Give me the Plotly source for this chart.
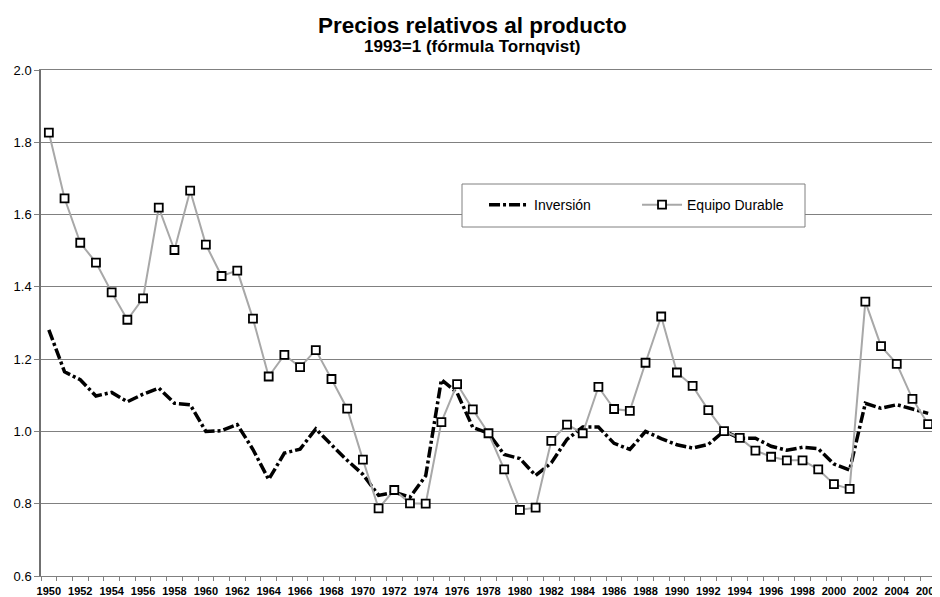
import plotly.graph_objects as go

# Datos (1993=1)
years = list(range(1950, 2007))

inversion = [
    1.281, 1.165, 1.143, 1.098, 1.108, 1.082, 1.103, 1.120, 1.078, 1.074,
    1.000, 1.002, 1.019, 0.950, 0.867, 0.940, 0.951, 1.007, 0.963, 0.920,
    0.881, 0.823, 0.832, 0.818, 0.877, 1.143, 1.107, 1.011, 0.995, 0.936,
    0.925, 0.878, 0.913, 0.978, 1.012, 1.012, 0.967, 0.950, 1.000, 0.980,
    0.963, 0.954, 0.964, 1.001, 0.981, 0.981, 0.959, 0.948, 0.956, 0.952,
    0.910, 0.893, 1.078, 1.064, 1.074, 1.061, 1.050,
]

equipo_durable = [
    1.827, 1.645, 1.522, 1.467, 1.385, 1.309, 1.368, 1.619, 1.502, 1.666,
    1.517, 1.430, 1.445, 1.312, 1.152, 1.212, 1.178, 1.225, 1.145, 1.063,
    0.922, 0.787, 0.838, 0.801, 0.800, 1.026, 1.131, 1.061, 0.995, 0.895,
    0.783, 0.789, 0.974, 1.019, 0.995, 1.123, 1.062, 1.057, 1.190, 1.318,
    1.163, 1.126, 1.059, 1.001, 0.982, 0.947, 0.930, 0.920, 0.920, 0.895,
    0.854, 0.841, 1.359, 1.236, 1.187, 1.090, 1.020,
]

FONT = "Liberation Sans, Arial, sans-serif"

fig = go.Figure()

fig.add_trace(go.Scatter(
    x=years, y=inversion, name="Inversión", mode="lines",
    line=dict(color="black", width=3.5, dash="11px,3px,3px,3px"),
))
fig.add_trace(go.Scatter(
    x=years, y=equipo_durable, name="Equipo Durable", mode="lines+markers",
    line=dict(color="#a8a8a8", width=2),
    marker=dict(symbol="square", size=8, color="white",
                line=dict(color="black", width=1.8)),
))

# la pagina tiene 8px de margen, por eso el tamaño es 932x589
fig.update_layout(
    width=932, height=589,
    margin=dict(l=33, r=4, t=62, b=21),
    paper_bgcolor="white", plot_bgcolor="white",
    font=dict(family=FONT, color="black"),
    showlegend=True,
    legend=dict(
        orientation="h", x=0.495, y=0.733, xanchor="left", yanchor="middle",
        bgcolor="rgba(0,0,0,0)", borderwidth=0,
        font=dict(size=14), entrywidth=98, itemwidth=40,
    ),
    # recuadro de la leyenda
    shapes=[dict(
        type="rect", xref="paper", yref="paper",
        x0=(462 - 41) / 895, x1=(805 - 41) / 895,
        y0=(576 - 227) / 506, y1=(576 - 184) / 506,
        fillcolor="white", line=dict(color="#808080", width=1), layer="above",
    )],
    annotations=[
        dict(text="<b>Precios relativos al producto</b>", x=0.4816, y=1.0,
             xref="paper", yref="paper", yshift=45, showarrow=False,
             font=dict(size=22.5, family=FONT), xanchor="center", yanchor="middle"),
        dict(text="<b>1993=1 (fórmula Tornqvist)</b>", x=0.4816, y=1.0,
             xref="paper", yref="paper", yshift=24, showarrow=False,
             font=dict(size=17, family=FONT), xanchor="center", yanchor="middle"),
    ],
)

fig.update_xaxes(
    range=[1949.5, 2006.5], tickmode="linear", tick0=1950, dtick=2,
    showgrid=False, zeroline=False, automargin=False,
    ticklabeloverflow="allow",
    showline=True, linecolor="#808080", linewidth=1, mirror=True,
    ticks="", ticklabelstandoff=5, tickfont=dict(size=11, weight="bold"),
    minor=dict(tickmode="linear", tick0=1949.5, dtick=1, ticks="outside",
               ticklen=4, tickcolor="#808080", showgrid=False),
)
fig.update_yaxes(
    range=[0.6, 2.0], tickmode="linear", tick0=0.6, dtick=0.2,
    tickformat=".1f", showgrid=True, gridcolor="#808080", gridwidth=1,
    zeroline=False, automargin=False, showline=True, linecolor="#707070",
    linewidth=1.5, mirror=True, ticks="outside", ticklen=5, tickcolor="#808080",
    tickfont=dict(size=13),
)

fig.write_html("out.html")
